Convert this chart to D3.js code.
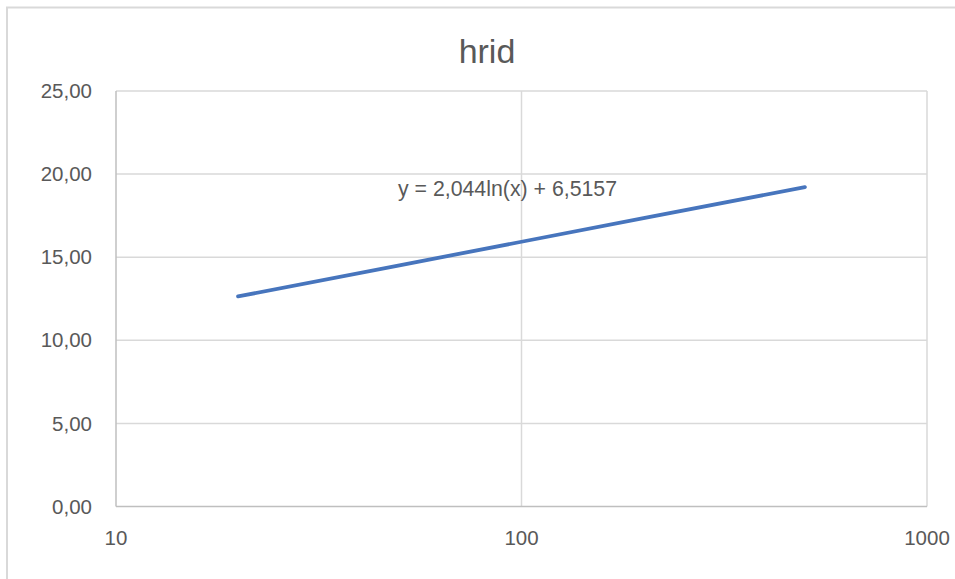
<!DOCTYPE html>
<html>
<head>
<meta charset="utf-8">
<script src="https://cdn.jsdelivr.net/npm/d3@7"></script>
<style>
  body { margin: 0; background: #fff; }
  text { font-family: "Liberation Sans", Arial, sans-serif; fill: #595959; }
</style>
</head>
<body>
<div id="chart"></div>
<script>
// series values
var xValues = [20, 50, 100, 200, 500]
var yValues = [12.64, 14.51, 15.93, 17.35, 19.22]
var yTicks = [0, 5, 10, 15, 20, 25]
var xTicks = [10, 100, 1000]
var chartTitle = "hrid"
var equationText = "y = 2,044ln(x) + 6,5157"

var width = 955, height = 579
var margin = { top: 91, right: 28, bottom: 72.5, left: 116 }

var svg = d3.select("#chart")
    .append("svg")
    .attr("width", width)
    .attr("height", height)

// chart border
svg.append("rect")
    .attr("x", 7).attr("y", 7.5)
    .attr("width", width + 10).attr("height", height + 10)
    .attr("fill", "none")
    .attr("stroke", "#d9d9d9")
    .attr("stroke-width", 2)

var x = d3.scaleLog()
    .domain([10, 1000])
    .range([margin.left, width - margin.right])

var y = d3.scaleLinear()
    .domain([0, 25])
    .range([height - margin.bottom, margin.top])

var fmt = function (d) { return d3.format(".2f")(d).replace(".", ","); }

// horizontal gridlines
svg.append("g")
    .selectAll("line")
    .data(yTicks.slice(1))
    .enter()
    .append("line")
    .attr("x1", x(10)).attr("x2", x(1000))
    .attr("y1", function (d) { return y(d); })
    .attr("y2", function (d) { return y(d); })
    .attr("stroke", "#d9d9d9")
    .attr("stroke-width", 1.5)

// vertical gridlines
svg.append("g")
    .selectAll("line")
    .data(xTicks.slice(1))
    .enter()
    .append("line")
    .attr("x1", function (d) { return x(d); })
    .attr("x2", function (d) { return x(d); })
    .attr("y1", y(0)).attr("y2", y(25))
    .attr("stroke", "#d9d9d9")
    .attr("stroke-width", 1.5)

// axis lines
svg.append("line")
    .attr("x1", x(10)).attr("x2", x(10))
    .attr("y1", y(0)).attr("y2", y(25))
    .attr("stroke", "#bfbfbf").attr("stroke-width", 1.5)
svg.append("line")
    .attr("x1", x(10)).attr("x2", x(1000))
    .attr("y1", y(0)).attr("y2", y(0))
    .attr("stroke", "#bfbfbf").attr("stroke-width", 1.5)

// y tick labels
svg.append("g")
    .selectAll("text")
    .data(yTicks)
    .enter()
    .append("text")
    .attr("x", 92)
    .attr("y", function (d) { return y(d); })
    .attr("dy", "0.35em")
    .attr("text-anchor", "end")
    .style("font-size", "20.5px")
    .text(fmt)

// x tick labels
svg.append("g")
    .selectAll("text")
    .data(xTicks)
    .enter()
    .append("text")
    .attr("x", function (d) { return x(d); })
    .attr("y", 545)
    .attr("text-anchor", "middle")
    .style("font-size", "20.5px")
    .text(function (d) { return d; })

// title
svg.append("text")
    .attr("x", 487)
    .attr("y", 63)
    .attr("text-anchor", "middle")
    .style("font-size", "34px")
    .text(chartTitle)

// series line
var points = xValues.map(function (d, i) { return [d, yValues[i]]; })
svg.append("path")
    .datum(points)
    .attr("fill", "none")
    .attr("stroke", "#4775bd")
    .attr("stroke-width", 3.8)
    .attr("stroke-linecap", "round")
    .attr("d", d3.line()
        .x(function (d) { return x(d[0]); })
        .y(function (d) { return y(d[1]); }))

// trendline equation
svg.append("text")
    .attr("x", 398)
    .attr("y", 196)
    .style("font-size", "21.3px")
    .text(equationText)
</script>
</body>
</html>
